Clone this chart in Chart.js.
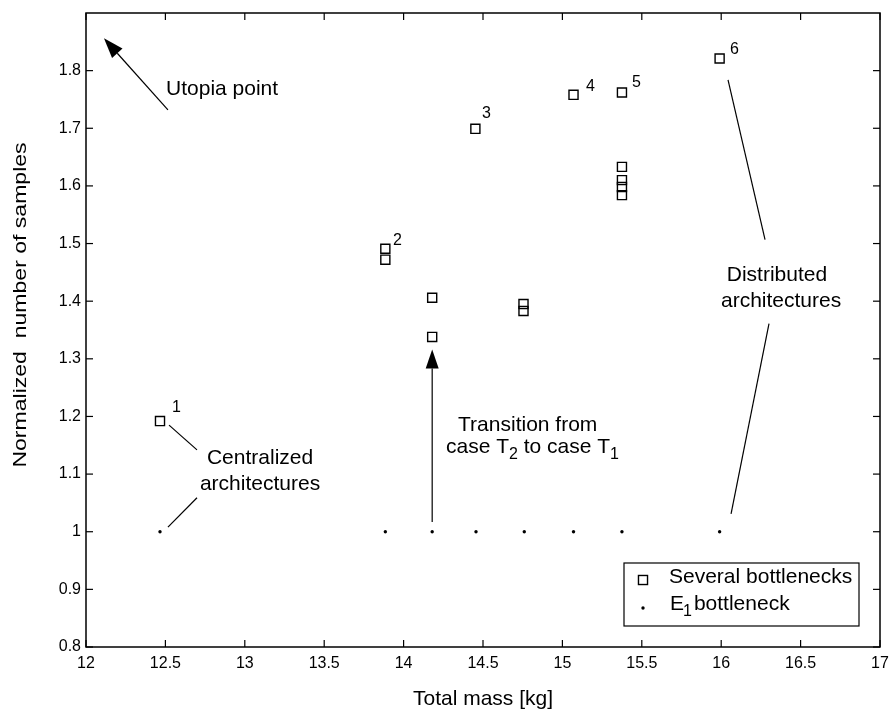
<!DOCTYPE html>
<html><head><meta charset="utf-8">
<script src="https://cdn.jsdelivr.net/npm/chart.js@4/dist/chart.umd.min.js"></script>
<style>html,body{margin:0;padding:0;background:#fff}#wrap{width:890px;height:711px}</style>
</head><body><div id="wrap"><canvas id="c" width="890" height="711"></canvas></div>
<script>
// ---- data ----
const massSeveral    = [12.466, 13.885, 13.885, 14.180, 14.180, 14.452, 14.755, 14.755, 15.070, 15.375, 15.375, 15.375, 15.375, 15.375, 15.990];
const samplesSeveral = [1.192,  1.491,  1.472,  1.406,  1.338,  1.699,  1.395,  1.383,  1.758,  1.762,  1.633,  1.610,  1.598,  1.584,  1.821];
const massE1    = [12.466, 13.885, 14.180, 14.456, 14.760, 15.070, 15.375, 15.990];
const samplesE1 = [1, 1, 1, 1, 1, 1, 1, 1];
const caseLabels       = ['1', '2', '3', '4', '5', '6'];
const caseLabelMass    = [12.542, 13.933, 14.494, 15.149, 15.438, 16.055];
const caseLabelSamples = [1.208, 1.498, 1.717, 1.765, 1.772, 1.828];
const xTicks = [12, 12.5, 13, 13.5, 14, 14.5, 15, 15.5, 16, 16.5, 17];
const yTicks = [0.8, 0.9, 1.0, 1.1, 1.2, 1.3, 1.4, 1.5, 1.6, 1.7, 1.8];
const seriesNames = ['Several bottlenecks', 'E1 bottleneck'];

const FONT = '"Liberation Sans", Arial, Helvetica, sans-serif';

function fmt(v){ return String(Number(Number(v).toFixed(2))); }

function txt(ctx, s, x, y, size, align, sx){
  ctx.save();
  ctx.font = size + 'px ' + FONT;
  ctx.textAlign = align || 'left';
  ctx.textBaseline = 'alphabetic';
  ctx.fillStyle = '#000';
  ctx.translate(x, y);
  ctx.scale(sx || 1, 1);
  ctx.fillText(s, 0, 0);
  ctx.restore();
}
function line(ctx, x1, y1, x2, y2){
  ctx.beginPath(); ctx.moveTo(x1, y1); ctx.lineTo(x2, y2); ctx.stroke();
}
function arrow(ctx, x1, y1, x2, y2, len, hw){
  const a = Math.atan2(y2 - y1, x2 - x1);
  const bx = x2 - len * Math.cos(a), by = y2 - len * Math.sin(a);
  line(ctx, x1, y1, bx, by);
  ctx.beginPath();
  ctx.moveTo(x2, y2);
  ctx.lineTo(bx + hw * Math.sin(a), by - hw * Math.cos(a));
  ctx.lineTo(bx - hw * Math.sin(a), by + hw * Math.cos(a));
  ctx.closePath(); ctx.fill();
}

const decorations = {
  id: 'decorations',
  afterDraw(chart){
    const ctx = chart.ctx, a = chart.chartArea;
    const xs = chart.scales.x, ys = chart.scales.y;
    const X = v => xs.getPixelForValue(v), Y = v => ys.getPixelForValue(v);
    ctx.save();
    ctx.strokeStyle = '#000'; ctx.fillStyle = '#000';
    // frame
    ctx.lineWidth = 1.5;
    ctx.strokeRect(a.left, a.top, a.right - a.left, a.bottom - a.top);
    // inward ticks
    ctx.lineWidth = 1.2;
    const tl = 7;
    xTicks.forEach(v => { const px = X(v); line(ctx, px, a.bottom, px, a.bottom - tl); line(ctx, px, a.top, px, a.top + tl); });
    yTicks.forEach(v => { const py = Y(v); line(ctx, a.left, py, a.left + tl, py); line(ctx, a.right, py, a.right - tl, py); });

    // case labels
    caseLabels.forEach((s, i) => txt(ctx, s, X(caseLabelMass[i]), Y(caseLabelSamples[i]), 16, 'left'));

    ctx.lineWidth = 1.2;
    // Utopia point
    arrow(ctx, X(12.516), Y(1.732), X(12.113), Y(1.856), 20, 7);
    txt(ctx, 'Utopia point', X(12.504), Y(1.758), 21, 'left');
    // Centralized
    line(ctx, X(12.523), Y(1.185), X(12.699), Y(1.142));
    line(ctx, X(12.516), Y(1.008), X(12.699), Y(1.059));
    txt(ctx, 'Centralized', X(13.096), Y(1.118), 21, 'center');
    txt(ctx, 'architectures', X(13.096), Y(1.073), 21, 'center');
    // Transition
    arrow(ctx, X(14.18), Y(1.017), X(14.18), Y(1.316), 19, 6.5);
    txt(ctx, 'Transition from', X(14.343), Y(1.175), 21, 'left');
    {
      let x = X(14.267); const y = Y(1.137);
      const parts = [['case T', 21, 0], ['2', 16, 6], [' to case T', 21, 0], ['1', 16, 6]];
      parts.forEach(p => {
        ctx.font = p[1] + 'px ' + FONT;
        const w = ctx.measureText(p[0]).width;
        txt(ctx, p[0], x, y + p[2], p[1], 'left');
        x += w;
      });
    }
    // Distributed
    line(ctx, X(16.043), Y(1.784), X(16.276), Y(1.507));
    line(ctx, X(16.301), Y(1.361), X(16.062), Y(1.031));
    txt(ctx, 'Distributed', X(16.351), Y(1.435), 21, 'center');
    txt(ctx, 'architectures', X(16.377), Y(1.390), 21, 'center');

    // legend (inside bottom-right of plot)
    const lw = 235, lh = 63;
    const lx = a.right - 21 - lw, ly = a.bottom - 21 - lh;
    ctx.fillStyle = '#fff';
    ctx.fillRect(lx, ly, lw, lh);
    ctx.fillStyle = '#000';
    ctx.lineWidth = 1.2;
    ctx.strokeRect(lx, ly, lw, lh);
    const ds0 = chart.data.datasets[0];
    ctx.lineWidth = ds0.borderWidth;
    const s = ds0.pointRadius * Math.SQRT1_2;
    ctx.strokeRect(lx + 19 - s, ly + 17 - s, 2 * s, 2 * s);
    ctx.beginPath(); ctx.arc(lx + 19, ly + 45, chart.data.datasets[1].pointRadius, 0, Math.PI * 2); ctx.fill();
    txt(ctx, seriesNames[0], lx + 45, ly + 20, 21, 'left');
    {
      ctx.font = '21px ' + FONT;
      let x = lx + 46; const y = ly + 47;
      txt(ctx, 'E', x, y, 21, 'left'); ctx.font = '21px ' + FONT; x += ctx.measureText('E').width;
      txt(ctx, '1', x - 1, y + 6, 16, 'left'); ctx.font = '16px ' + FONT; x += ctx.measureText('1').width + 1;
      txt(ctx, 'bottleneck', x, y, 21, 'left');
    }

    // axis titles
    txt(ctx, 'Total mass [kg]', (a.left + a.right) / 2, 705, 21, 'center');
    ctx.save();
    ctx.translate(26, 305);
    ctx.rotate(-Math.PI / 2);
    txt(ctx, 'Normalized  number of samples', 0, 0, 18, 'center', 1.28);
    ctx.restore();
    ctx.restore();
  }
};

new Chart(document.getElementById('c'), {
  type: 'scatter',
  data: {
    datasets: [
      { label: seriesNames[0], data: massSeveral.map((m, i) => ({ x: m, y: samplesSeveral[i] })),
        pointStyle: 'rect', pointRadius: 6.4, borderColor: '#000', borderWidth: 1.4,
        backgroundColor: 'rgba(0,0,0,0)', showLine: false },
      { label: seriesNames[1], data: massE1.map((m, i) => ({ x: m, y: samplesE1[i] })),
        pointStyle: 'circle', pointRadius: 1.7, borderWidth: 0, backgroundColor: '#000', showLine: false }
    ]
  },
  options: {
    responsive: false, animation: false, devicePixelRatio: 1,
    layout: { padding: { top: 13, right: 10, left: 0, bottom: 0 } },
    plugins: { legend: { display: false }, tooltip: { enabled: false } },
    scales: {
      x: {
        type: 'linear', min: 12, max: 17,
        afterBuildTicks: sc => { sc.ticks = xTicks.map(v => ({ value: v })); },
        afterFit: sc => { sc.height = 64; sc.paddingLeft = 0; sc.paddingRight = 0; },
        grid: { display: false, drawTicks: false }, border: { display: false },
        ticks: { callback: v => fmt(v), color: '#000', font: { family: FONT, size: 16 }, padding: 7, maxRotation: 0, autoSkip: false }
      },
      y: {
        type: 'linear', min: 0.8, max: 1.9,
        afterBuildTicks: sc => { sc.ticks = yTicks.map(v => ({ value: v })); },
        afterFit: sc => { sc.width = 86; sc.paddingTop = 0; sc.paddingBottom = 0; },
        grid: { display: false, drawTicks: false }, border: { display: false },
        ticks: { callback: v => fmt(v), color: '#000', font: { family: FONT, size: 16 }, padding: 5, autoSkip: false }
      }
    }
  },
  plugins: [decorations]
});
</script>
</body></html>
